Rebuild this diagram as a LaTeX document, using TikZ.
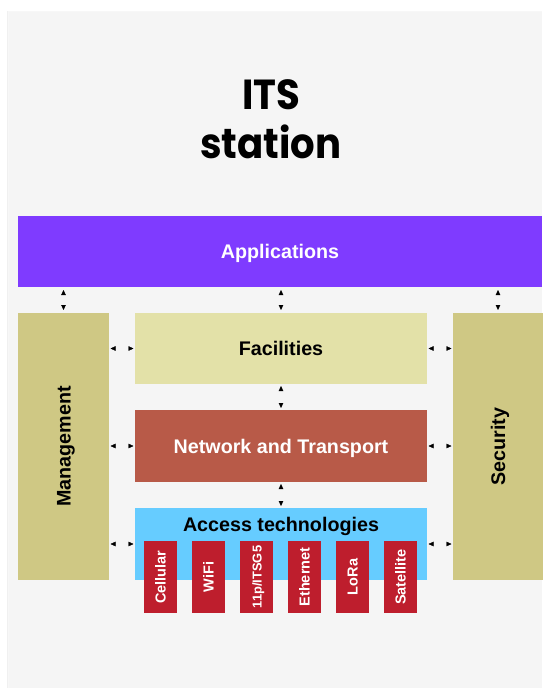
\documentclass[tikz,border=0pt]{standalone}
\usepackage{fontspec}
\setmainfont{Liberation Sans}
\newfontfamily\titlefont{Poppins}
\usetikzlibrary{arrows.meta}
\definecolor{panel}{HTML}{F5F5F5}
\definecolor{appcol}{HTML}{7F3BFF}
\definecolor{sidecol}{HTML}{CFC884}
\definecolor{faccol}{HTML}{E3E1A8}
\definecolor{netcol}{HTML}{B85A48}
\definecolor{acccol}{HTML}{66CCFF}
\definecolor{techcol}{HTML}{BE1E2D}
\tikzset{
  layer/.style={inner sep=0pt, outer sep=0pt, text height=14.1pt, text depth=0pt,
    font=\fontsize{19.7}{22}\selectfont\bfseries},
  techbox/.style={fill=techcol, inner sep=0pt, minimum width=32.5pt, minimum height=72pt},
  techlabel/.style={rotate=90, text=white, inner sep=0pt, text height=10.4pt, text depth=0pt,
    font=\fontsize{14.5}{17}\selectfont\bfseries},
  biarrow/.style={draw=panel, line width=0.3pt,
    {Triangle[black,length=5pt,width=4.5pt]}-{Triangle[black,length=5pt,width=4.5pt]}},
}
\begin{document}
\begin{tikzpicture}[x=1pt,y=-1pt]
\useasboundingbox (0,0) rectangle (542,688);
\fill[white] (0,0) rectangle (542,688);
% panel with faint shadow
\fill[black!6] (6.5,10.5) rectangle (542,688);
\fill[black!3] (7.8,11.3) rectangle (542,688);
\fill[panel] (9,12) rectangle (542,688);
% title
\node[font=\titlefont\bfseries\fontsize{42}{49}\selectfont, align=center, xscale=0.92] (title) at (271,119) {ITS\\station};
% layers
\node[layer, fill=appcol, text=white, minimum width=524pt, minimum height=71pt] (app) at (280,251.5) {Applications};
\node[layer, fill=sidecol, minimum width=91pt, minimum height=267pt] (mgmt) at (63.5,446.5) {};
\node[layer, rotate=90] (mgmtlabel) at (mgmt.center) {Management};
\node[layer, fill=sidecol, minimum width=90pt, minimum height=267pt] (sec) at (498,446.5) {};
\node[layer, rotate=90] (seclabel) at (sec.center) {Security};
\node[layer, fill=faccol, minimum width=292pt, minimum height=71pt] (fac) at (281,348.5) {Facilities};
\node[layer, fill=netcol, text=white, minimum width=292pt, minimum height=72pt] (net) at (281,446) {Network and Transport};
\node[layer, fill=acccol, minimum width=292pt, minimum height=72pt] (acc) at (281,544) {};
\node[layer] (acclabel) at (281,524) {Access technologies};
% technologies
\foreach \name/\txt/\fs [count=\i from 0] in {cell/Cellular/14.5, wifi/WiFi/14.5, itsg/{11p/ITSG5}/12.9, eth/Ethernet/14.5, lora/LoRa/14.5, sat/Satellite/14.5}{
  \node[techbox] (\name) at (160.5+48*\i,577) {};
  \node[techlabel, font=\fontsize{\fs}{17}\selectfont\bfseries] (\name label) at (\name.center) {\txt};
}
% arrows
\draw[biarrow, shorten <=3pt, shorten >=3pt] (app.south -| mgmt.center) -- (mgmt.north);
\draw[biarrow, shorten <=3pt, shorten >=3pt] (app.south -| fac.center) -- (fac.north);
\draw[biarrow, shorten <=3pt, shorten >=3pt] (app.south -| sec.center) -- (sec.north);
\draw[biarrow, shorten <=2pt, shorten >=2pt] (fac.south) -- (net.north);
\draw[biarrow, shorten <=2pt, shorten >=2pt] (net.south) -- (acc.north);
\foreach \b in {fac,net,acc}{
  \draw[biarrow, shorten <=1.5pt, shorten >=1.5pt] (mgmt.east |- \b.center) -- (\b.west);
  \draw[biarrow, shorten <=1.5pt, shorten >=1.5pt] (\b.east) -- (sec.west |- \b.center);
}
\end{tikzpicture}
\end{document}
